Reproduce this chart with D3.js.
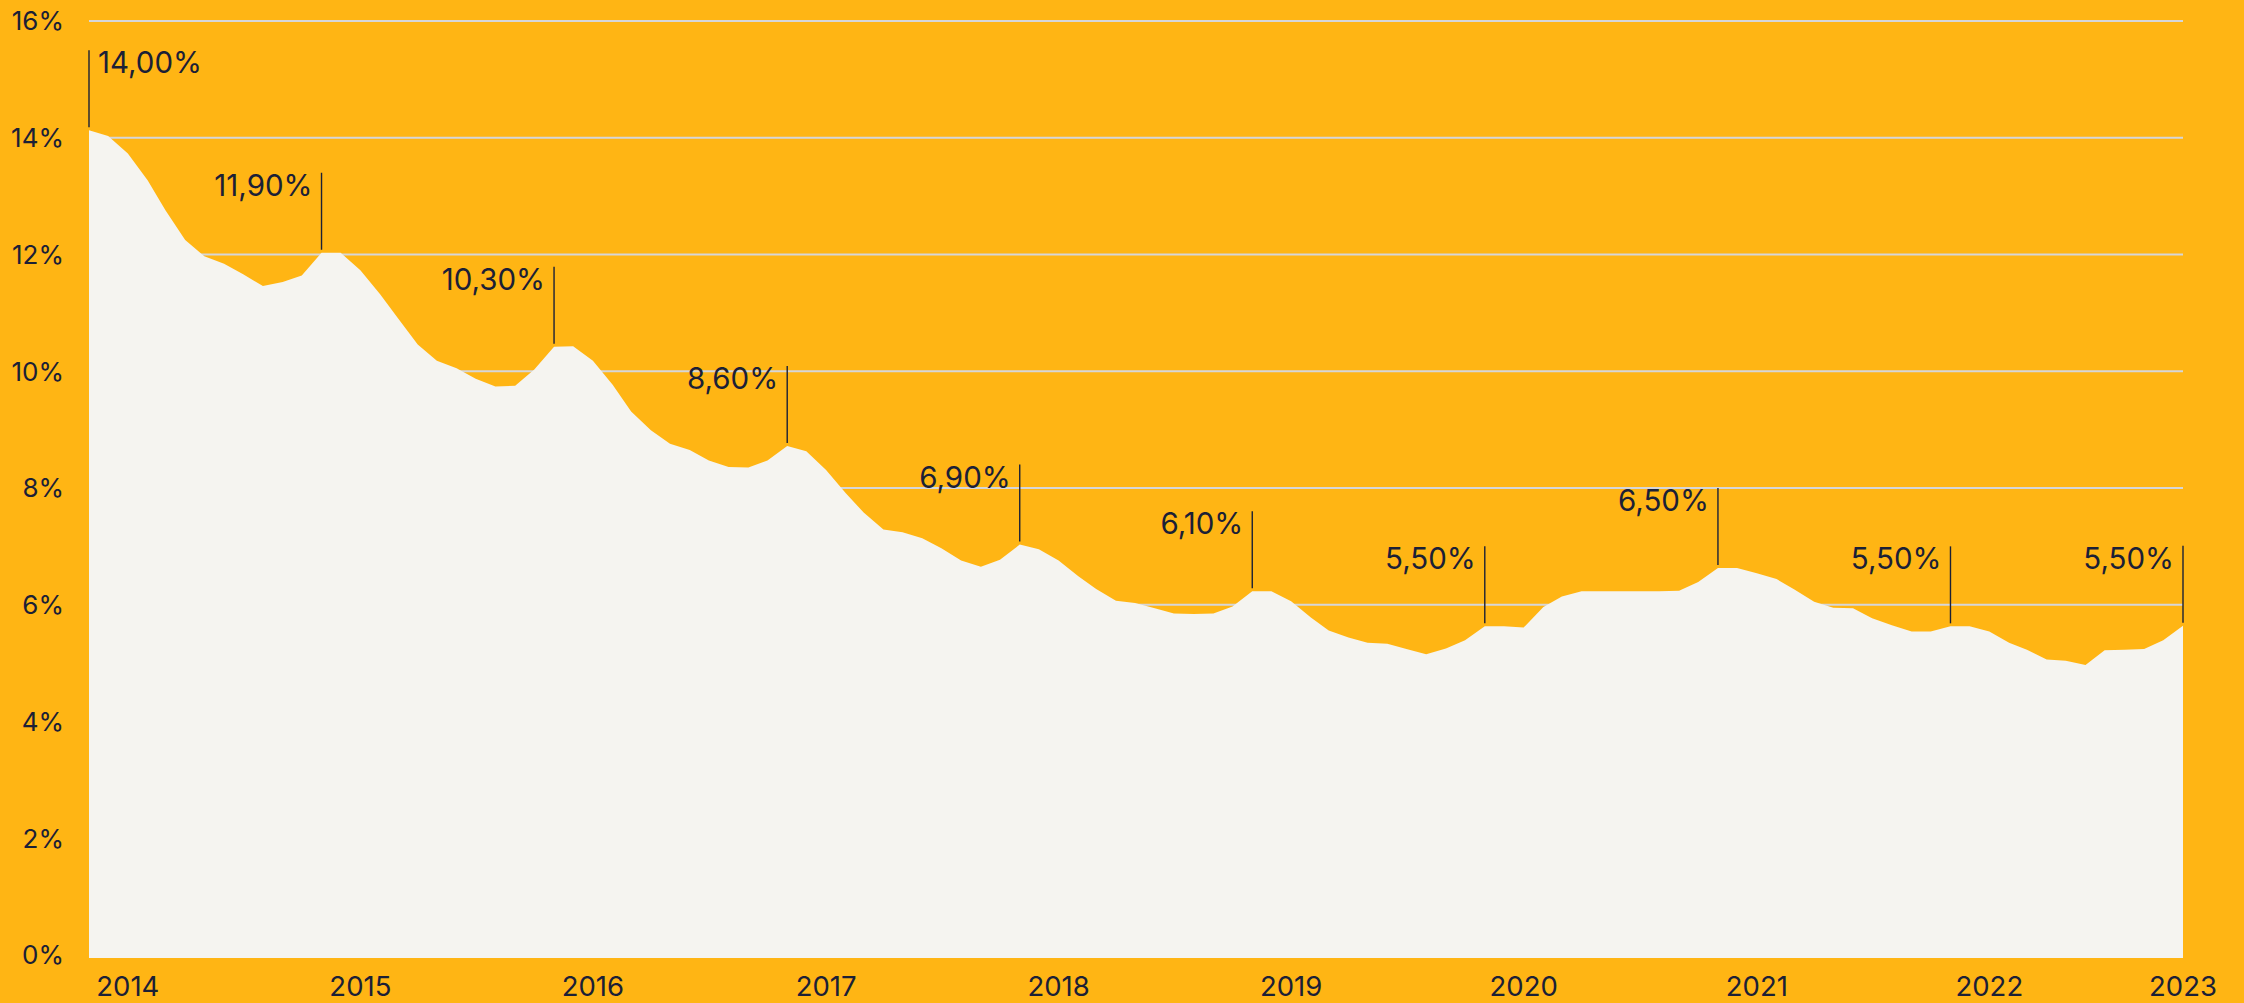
<!DOCTYPE html>
<html>
<head>
<meta charset="utf-8">
<script src="https://cdn.jsdelivr.net/npm/d3@7"></script>
<style>
  html, body { margin: 0; padding: 0; background: #FFB514; }
  svg { display: block; }
  text { font-family: Inter, "Noto Sans", sans-serif; fill: #1b2036; }
</style>
</head>
<body>
<script>
// monthly values, Nov 2013 -> Nov 2022
const startMonth = new Date(2013, 10, 1);
const endMonth = new Date(2022, 10, 1);

const rates = [
  14.13, 14.03, 13.73, 13.27, 12.76, 12.25, 11.97, 11.84, 11.66, 11.46,
  11.53, 11.64, 12.03, 12.03, 11.73, 11.32, 10.91, 10.46, 10.18, 10.05,
  9.87, 9.74, 9.75, 10.03, 10.42, 10.43, 10.18, 9.77, 9.31, 8.99,
  8.76, 8.65, 8.47, 8.36, 8.35, 8.47, 8.72, 8.63, 8.31, 7.91,
  7.58, 7.29, 7.24, 7.14, 6.97, 6.76, 6.65, 6.77, 7.03, 6.95,
  6.76, 6.49, 6.27, 6.07, 6.03, 5.94, 5.85, 5.84, 5.85, 5.97,
  6.23, 6.23, 6.06, 5.78, 5.56, 5.44, 5.35, 5.33, 5.24, 5.15,
  5.25, 5.39, 5.63, 5.63, 5.61, 5.96, 6.14, 6.23, 6.23, 6.23,
  6.23, 6.23, 6.24, 6.39, 6.63, 6.63, 6.54, 6.44, 6.26, 6.05,
  5.95, 5.94, 5.77, 5.65, 5.54, 5.54, 5.63, 5.63, 5.54, 5.35,
  5.23, 5.06, 5.04, 4.97, 5.22, 5.23, 5.24, 5.39, 5.64
];

const noteMonths = ["2013-11", "2014-11", "2015-11", "2016-11", "2017-11",
                    "2018-11", "2019-11", "2020-11", "2021-11", "2022-11"];
const noteLabels = ["14,00%", "11,90%", "10,30%", "8,60%", "6,90%",
                    "6,10%", "5,50%", "6,50%", "5,50%", "5,50%"];

const yearTicks = [2014, 2015, 2016, 2017, 2018, 2019, 2020, 2021, 2022, 2023];
const yTicks = [0, 2, 4, 6, 8, 10, 12, 14, 16];

const margin = {top: 21, right: 61, bottom: 48, left: 89},
    width = 2244 - margin.left - margin.right,
    height = 1003 - margin.top - margin.bottom;

const months = d3.timeMonth.range(startMonth, d3.timeMonth.offset(endMonth, 1));
const data = months.map((m, i) => ({date: m, value: rates[i]}));
const parseMonth = d3.timeParse("%Y-%m");

const x = d3.scaleTime()
    .domain([startMonth, endMonth])
    .range([0, width]);

const y = d3.scaleLinear()
    .domain([0, 16])
    .range([height, 0]);

const svg = d3.select("body")
  .append("svg")
    .attr("width", 2244)
    .attr("height", 1003)
  .append("g")
    .attr("transform", "translate(" + margin.left + "," + margin.top + ")");

// gridlines
svg.selectAll(".grid")
  .data(yTicks)
  .enter()
  .append("line")
    .attr("x1", 0)
    .attr("x2", width)
    .attr("y1", d => y(d))
    .attr("y2", d => y(d))
    .attr("stroke", "#d6d6d8")
    .attr("stroke-width", 2);

// y labels
svg.selectAll(".ylab")
  .data(yTicks)
  .enter()
  .append("text")
    .attr("x", -25)
    .attr("y", d => y(d))
    .attr("dy", "0.36em")
    .attr("text-anchor", "end")
    .style("font-size", "26px")
    .text(d => d + "%");

// area
const area = d3.area()
    .x(d => x(d.date))
    .y0(y(0) + 3)
    .y1(d => y(d.value));

svg.append("path")
    .datum(data)
    .attr("d", area)
    .attr("fill", "#f5f4f0");

// x labels, the last one is held at the plot edge
svg.selectAll(".xlab")
  .data(yearTicks)
  .enter()
  .append("text")
    .attr("x", d => Math.min(x(new Date(d, 0, 1)), width))
    .attr("y", height + 41)
    .attr("text-anchor", "middle")
    .style("font-size", "27.5px")
    .text(d => d);

// annotations
const notes = noteMonths.map((m, i) => {
    const date = parseMonth(m);
    const row = data.find(r => +r.date === +date);
    return {date: date, value: row.value, label: noteLabels[i], first: i === 0};
});

const noteG = svg.selectAll(".note")
  .data(notes)
  .enter()
  .append("g")
    .attr("transform", d => "translate(" + x(d.date) + "," + y(d.value) + ")");

noteG.append("line")
    .attr("x1", 0)
    .attr("x2", 0)
    .attr("y1", -3)
    .attr("y2", -80)
    .attr("stroke", "#1b2036")
    .attr("stroke-width", 1.4);

noteG.append("text")
    .attr("x", d => d.first ? 9 : -9)
    .attr("y", -57)
    .attr("text-anchor", d => d.first ? "start" : "end")
    .style("font-size", "29.5px")
    .text(d => d.label);
</script>
</body>
</html>
